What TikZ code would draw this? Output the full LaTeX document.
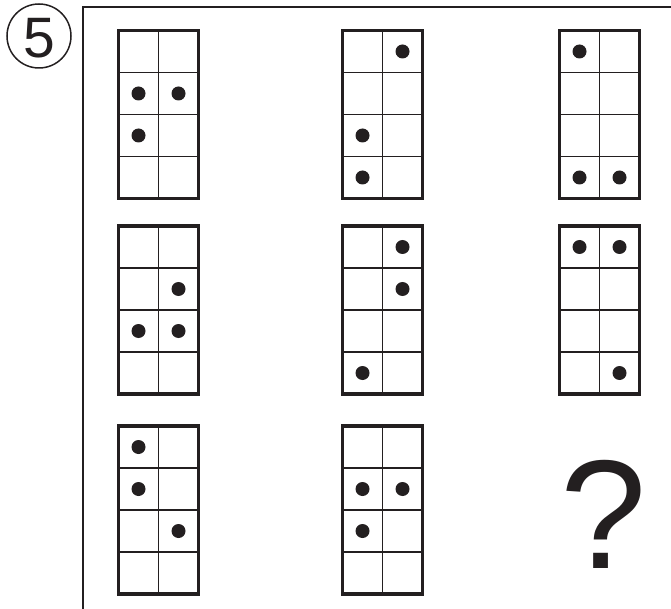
\documentclass[tikz,border=0pt]{standalone}
\usepackage{fontspec}
\setmainfont{Liberation Sans}
\definecolor{ink}{HTML}{231F20}
\begin{document}
\begin{tikzpicture}[x=1pt,y=-1pt,
  outer/.style={draw=ink,line width=3.4pt},
  inner/.style={draw=ink,line width=1.8pt},
  frameline/.style={draw=ink,line width=2pt},
  dot/.style={circle,fill=ink,inner sep=0pt,minimum size=14pt}]
\useasboundingbox (0,0) rectangle (671,609);
% frame
\coordinate (ftop) at (671,7.5);
\coordinate (fcorner) at (83,7.5);
\coordinate (fbottom) at (83,609);
\draw[frameline] (ftop) -- (fcorner) -- (fbottom);
% number
\node[draw=ink,line width=1.5pt,circle,minimum size=64pt,inner sep=0pt] (numc) at (39,36) {};
\node[inner sep=0pt,text=ink,font=\fontsize{57}{57}\selectfont] (num) at (39,38.5) {5};
% grids
\newcommand{\gridcell}[3]{%
  \begin{scope}[shift={(#1,#2)}]
    \draw[inner] (40,0) -- (40,168);
    \draw[inner] (0,42) -- (80,42);
    \draw[inner] (0,84) -- (80,84);
    \draw[inner] (0,126) -- (80,126);
    \draw[outer] (0,0) rectangle (80,168);
    \foreach \c/\r in {#3} {
      \node[dot] at (20+40*\c,21+42*\r) {};
    }
  \end{scope}}
\gridcell{118.5}{30.5}{0/1,1/1,0/2}
\gridcell{342.5}{30.5}{1/0,0/2,0/3}
\gridcell{559.5}{30.5}{0/0,0/3,1/3}
\gridcell{118.5}{226}{1/1,0/2,1/2}
\gridcell{342.5}{226}{1/0,1/1,0/3}
\gridcell{559.5}{226}{0/0,1/0,1/3}
\gridcell{118.5}{426}{0/0,0/1,1/2}
\gridcell{342.5}{426}{0/1,1/1,0/2}
\node[inner sep=0pt,text=ink,font=\fontsize{155}{155}\selectfont] (q) at (603.5,514.5) {?};
\end{tikzpicture}
\end{document}
